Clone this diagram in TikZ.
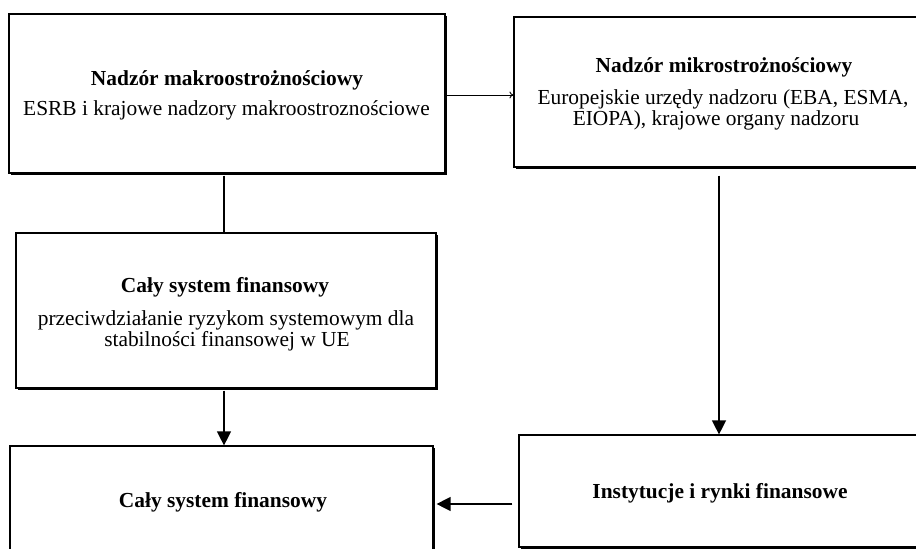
\documentclass[tikz,border=0pt]{standalone}
\usepackage{fontspec}
\setmainfont{Liberation Serif}
\usetikzlibrary{arrows.meta,shadows}
\begin{document}
\begin{tikzpicture}[x=1pt,y=-1pt,
  box/.style={draw, line width=1.2pt, fill=white, inner sep=0pt,
    drop shadow={shadow xshift=1.6pt, shadow yshift=-1.6pt, opacity=1, fill=black}},
  txt/.style={anchor=base, inner sep=0pt, font=\fontsize{21.4}{21}\selectfont},
  ttl/.style={txt, font=\fontsize{21.4}{21}\selectfont\bfseries},
  bigarrow/.style={line width=1.3pt, -{Triangle[length=14pt,width=14pt]}},
  thinarrow/.style={line width=0.9pt, -{To[length=4pt,width=7pt]}},
  plainline/.style={line width=1.3pt}]
\useasboundingbox (0,0) rectangle (916,549);
\clip (0,0) rectangle (916,549);
% boxes
\node[box, minimum width=436pt, minimum height=159pt] (tl) at (227,93.5) {};
\node[box, minimum width=416pt, minimum height=150pt] (tr) at (722,92) {};
\node[box, minimum width=420pt, minimum height=155pt] (mid) at (226,310.5) {};
\node[box, minimum width=423pt, minimum height=124pt] (bl) at (221.5,508) {};
\node[box, minimum width=411pt, minimum height=112pt] (br) at (724.5,491) {};
% texts
\node[ttl] (tlt) at (227,85) {Nadzór makroostrożnościowy};
\node[txt] (tlb) at (226.5,115) {ESRB i krajowe nadzory makroostroznościowe};
\node[ttl] (trt) at (724,72) {Nadzór mikrostrożnościowy};
\node[txt] (trb1) at (723,104.5) {Europejskie urzędy nadzoru (EBA, ESMA,};
\node[txt] (trb2) at (716,125.5) {EIOPA), krajowe organy nadzoru};
\node[ttl] (midt) at (225,292) {Cały system finansowy};
\node[txt] (midb1) at (226,325) {przeciwdziałanie ryzykom systemowym dla};
\node[txt] (midb2) at (227,346) {stabilności finansowej w UE};
\node[ttl] (blt) at (223,507) {Cały system finansowy};
\node[ttl] (brt) at (720,498) {Instytucje i rynki finansowe};
% helper coordinates
\coordinate (xl) at (224,0);
\coordinate (xr) at (719,0);
\coordinate (yb) at (0,504);
\coordinate (yt) at (0,95);
% connectors
\draw[thinarrow] (tl.east |- yt) -- (tr.west |- yt);
\draw[plainline, shorten <=2pt] (tl.south -| xl) -- (mid.north -| xl);
\draw[bigarrow, shorten <=2pt] (mid.south -| xl) -- (bl.north -| xl);
\draw[bigarrow, shorten <=8pt] (tr.south -| xr) -- (br.north -| xr);
\draw[bigarrow, shorten <=6pt, shorten >=3pt] (br.west |- yb) -- (bl.east |- yb);
\end{tikzpicture}
\end{document}
